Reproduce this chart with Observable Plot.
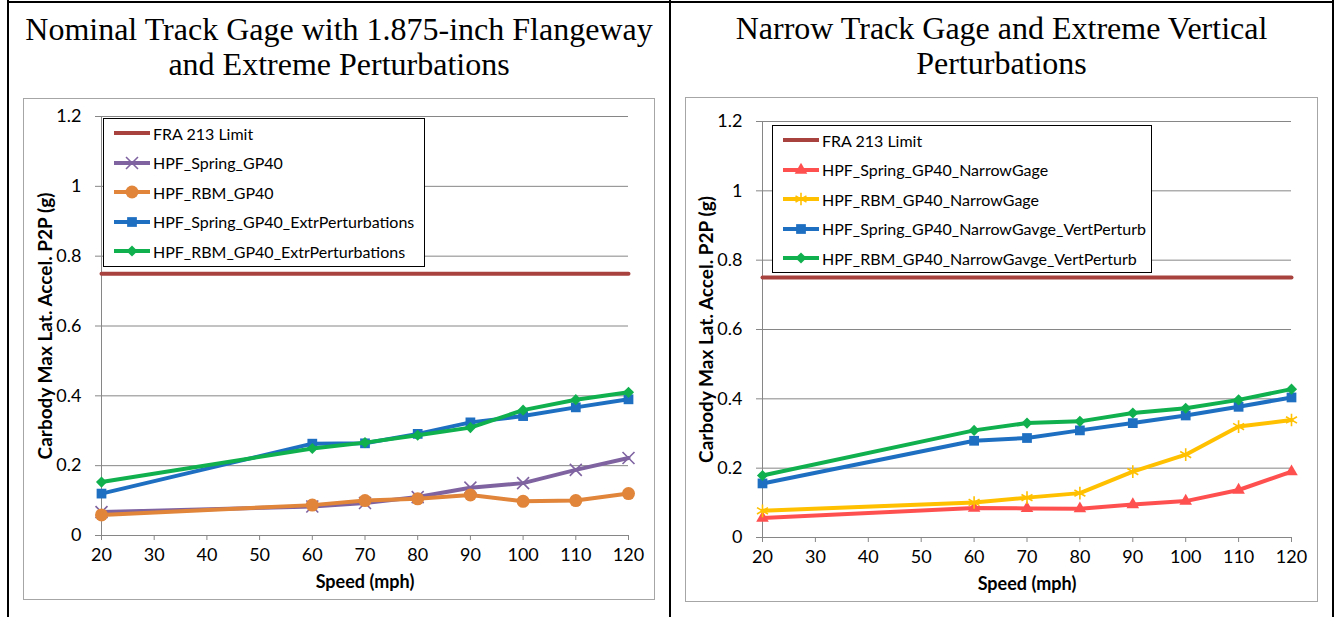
<!DOCTYPE html>
<html><head><meta charset="utf-8">
<script src="https://cdn.jsdelivr.net/npm/d3@7"></script>
<script src="https://cdn.jsdelivr.net/npm/@observablehq/plot@0.6"></script>
<style>
body{margin:0;background:#fff;width:1335px;height:617px;position:relative;overflow:hidden;font-family:Lato,sans-serif}
.b{position:absolute;background:#000}
.title{position:absolute;font-family:"Liberation Serif","Times New Roman",serif;font-size:32px;text-align:center;line-height:35px;color:#000;white-space:nowrap}
.frame{position:absolute;border:1px solid #a6a6a6;box-sizing:border-box;background:#fff}
.frame svg{display:block}
.legend{position:absolute;border:1px solid #000;background:#fff;box-sizing:border-box}
.li{position:absolute;left:10px;height:20px;display:flex;align-items:center;font-size:16px;white-space:nowrap;color:#000;font-family:Lato,sans-serif}
.li svg{display:block;margin-right:2px}
</style>
</head><body>
<script>
// ---------- data ----------
const speed = [20, 60, 70, 80, 90, 100, 110, 120];
const limitSpeed = [20, 120];
const fraLimit = [0.75, 0.75];

// left chart
const hpfSpringGP40 = [0.067, 0.083, 0.093, 0.110, 0.137, 0.150, 0.188, 0.222];
const hpfRbmGP40 = [0.059, 0.087, 0.100, 0.105, 0.116, 0.098, 0.100, 0.120];
const hpfSpringGP40Extr = [0.120, 0.263, 0.264, 0.291, 0.324, 0.342, 0.367, 0.390];
const hpfRbmGP40Extr = [0.153, 0.249, 0.266, 0.287, 0.309, 0.359, 0.389, 0.410];

// right chart
const hpfSpringNarrow = [0.056, 0.085, 0.084, 0.083, 0.095, 0.105, 0.137, 0.190];
const hpfRbmNarrow = [0.077, 0.101, 0.115, 0.128, 0.190, 0.239, 0.320, 0.339];
const hpfSpringNarrowVert = [0.156, 0.279, 0.287, 0.309, 0.330, 0.352, 0.377, 0.404];
const hpfRbmNarrowVert = [0.179, 0.309, 0.330, 0.335, 0.359, 0.373, 0.397, 0.428];

const leftNames = ["FRA 213 Limit", "HPF_Spring_GP40", "HPF_RBM_GP40", "HPF_Spring_GP40_ExtrPerturbations", "HPF_RBM_GP40_ExtrPerturbations"];
const rightNames = ["FRA 213 Limit", "HPF_Spring_GP40_NarrowGage", "HPF_RBM_GP40_NarrowGage", "HPF_Spring_GP40_NarrowGavge_VertPerturb", "HPF_RBM_GP40_NarrowGavge_VertPerturb"];

const xTicks = [20, 30, 40, 50, 60, 70, 80, 90, 100, 110, 120];
const xTickLabels = ["20", "30", "40", "50", "60", "70", "80", "90", "100", "110", "120"];
const yTicks = [0, 0.2, 0.4, 0.6, 0.8, 1, 1.2];
const yTickLabels = ["0", "0.2", "0.4", "0.6", "0.8", "1", "1.2"];

const leftTitle = ["Nominal Track Gage with 1.875-inch Flangeway", "and Extreme Perturbations"];
const rightTitle = ["Narrow Track Gage and Extreme Vertical", "Perturbations"];
const xTitle = "Speed (mph)";
const yTitle = "Carbody Max Lat. Accel. P2P (g)";

// ---------- styles ----------
const FRA = {color: "#A8423F", symbol: null, r: 0};
const leftStyles = [FRA,
  {color: "#7F63A1", symbol: "times", r: 5.5},
  {color: "#E0853A", symbol: "circle", r: 6.5},
  {color: "#1E6FC2", symbol: "square", r: 5.5},
  {color: "#10B04E", symbol: "diamond2", r: 5}];
const rightStyles = [FRA,
  {color: "#FF5050", symbol: "triangle2", r: 6},
  {color: "#FFC000", symbol: "asterisk", r: 6},
  {color: "#1E6FC2", symbol: "square", r: 5.5},
  {color: "#10B04E", symbol: "diamond2", r: 5}];

function el(cls, css, parent = document.body) {
  const d = document.createElement("div");
  d.className = cls;
  Object.assign(d.style, css);
  parent.appendChild(d);
  return d;
}

// table borders
el("b", {left: "7px", top: "0px", width: "2px", height: "617px"});
el("b", {left: "669px", top: "0px", width: "2px", height: "617px"});
el("b", {left: "1332px", top: "0px", width: "2px", height: "617px"});
el("b", {left: "7px", top: "1px", width: "1327px", height: "2px"});

// titles
function title(lines, left, width, top) {
  const d = el("title", {left: left + "px", width: width + "px", top: top + "px"});
  lines.forEach((t, i) => { if (i) d.appendChild(document.createElement("br")); d.appendChild(document.createTextNode(t)); });
}
title(leftTitle, 9, 660, 12);
title(rightTitle, 671, 661, 11);

function seriesMarks(x, vals, st) {
  const rows = x.map((s, i) => ({speed: s, value: vals[i]}));
  const m = [Plot.line(rows, {x: "speed", y: "value", stroke: st.color, strokeWidth: 4})];
  if (st.symbol) {
    const stroked = st.symbol === "times" || st.symbol === "asterisk";
    m.push(Plot.dot(rows, {x: "speed", y: "value", symbol: st.symbol, r: st.r,
      fill: stroked ? "none" : st.color, stroke: stroked ? st.color : "none", strokeWidth: stroked ? 1.6 : 0}));
  }
  return m;
}

function chart(cfg) {
  const frame = el("frame", {left: cfg.left + "px", top: cfg.top + "px", width: cfg.w + "px", height: cfg.h + "px"});
  const all = [fraLimit, ...cfg.series];
  const marks = [
    Plot.gridY({ticks: yTicks.slice(1), stroke: "#868686", strokeOpacity: 1}),
    Plot.ruleX([20], {stroke: "#868686"}),
    Plot.ruleY([0], {stroke: "#868686"}),
    Plot.axisX({ticks: xTicks, tickSize: 5, tickPadding: 8, stroke: "#868686", fill: "#000", fontSize: 18,
      tickFormat: d => xTickLabels[xTicks.indexOf(d)]}),
    Plot.axisY({ticks: yTicks, tickSize: 6, tickPadding: 14, stroke: "#868686", fill: "#000", fontSize: 18,
      tickFormat: d => yTickLabels[yTicks.indexOf(d)]}),
    Plot.text([xTitle], {text: d => d, frameAnchor: "bottom", dy: 52, fontWeight: "bold", fontSize: 18, fill: "#000"}),
    Plot.text([yTitle], {text: d => d, frameAnchor: "left", textAnchor: "middle", rotate: -90, dx: -56, fontWeight: "bold", fontSize: 19, fill: "#000"})
  ];
  all.forEach((vals, i) => marks.push(...seriesMarks(i === 0 ? limitSpeed : speed, vals, cfg.styles[i])));
  const svg = Plot.plot({
    width: cfg.w - 2, height: cfg.h - 2,
    marginLeft: cfg.ml, marginRight: cfg.mr, marginTop: cfg.mt, marginBottom: cfg.mb,
    x: {domain: [20, 120], label: null},
    y: {domain: [0, 1.2], label: null},
    style: {fontFamily: "Lato, sans-serif", fontSize: "18px", color: "#000", background: "transparent", overflow: "visible"},
    marks
  });
  frame.appendChild(svg);

  // legend
  const lg = el("legend", {left: cfg.lg.left + "px", top: cfg.lg.top + "px", width: cfg.lg.w + "px", height: cfg.lg.h + "px"});
  const symMap = {circle: d3.symbolCircle, square: d3.symbolSquare, diamond2: d3.symbolDiamond2,
    times: d3.symbolTimes, triangle2: d3.symbolTriangle2, asterisk: d3.symbolAsterisk};
  cfg.names.forEach((name, i) => {
    const st = cfg.styles[i];
    const row = el("li", {top: (cfg.lg.first + i * cfg.lg.step - 10) + "px"}, lg);
    const s = d3.create("svg").attr("width", 37).attr("height", 20);
    s.append("line").attr("x1", 0).attr("x2", 36).attr("y1", 10).attr("y2", 10).attr("stroke", st.color).attr("stroke-width", 4);
    if (st.symbol) {
      const stroked = st.symbol === "times" || st.symbol === "asterisk";
      s.append("path").attr("transform", "translate(18,10)")
        .attr("d", d3.symbol(symMap[st.symbol], Math.PI * st.r * st.r)())
        .attr("fill", stroked ? "none" : st.color).attr("stroke", stroked ? st.color : "none").attr("stroke-width", 1.6);
    }
    row.appendChild(s.node());
    const sp = document.createElement("span");
    sp.textContent = name;
    row.appendChild(sp);
  });
}

chart({left: 23, top: 98, w: 632, h: 502, ml: 77, mr: 26, mt: 17, mb: 64,
  series: [hpfSpringGP40, hpfRbmGP40, hpfSpringGP40Extr, hpfRbmGP40Extr], styles: leftStyles, names: leftNames,
  lg: {left: 103, top: 118, w: 322, h: 149, first: 14, step: 29.6}});
chart({left: 685, top: 97, w: 633, h: 505, ml: 76, mr: 26, mt: 23, mb: 64,
  series: [hpfSpringNarrow, hpfRbmNarrow, hpfSpringNarrowVert, hpfRbmNarrowVert], styles: rightStyles, names: rightNames,
  lg: {left: 772, top: 125, w: 380, h: 148, first: 14, step: 29.6}});
</script>
</body></html>
